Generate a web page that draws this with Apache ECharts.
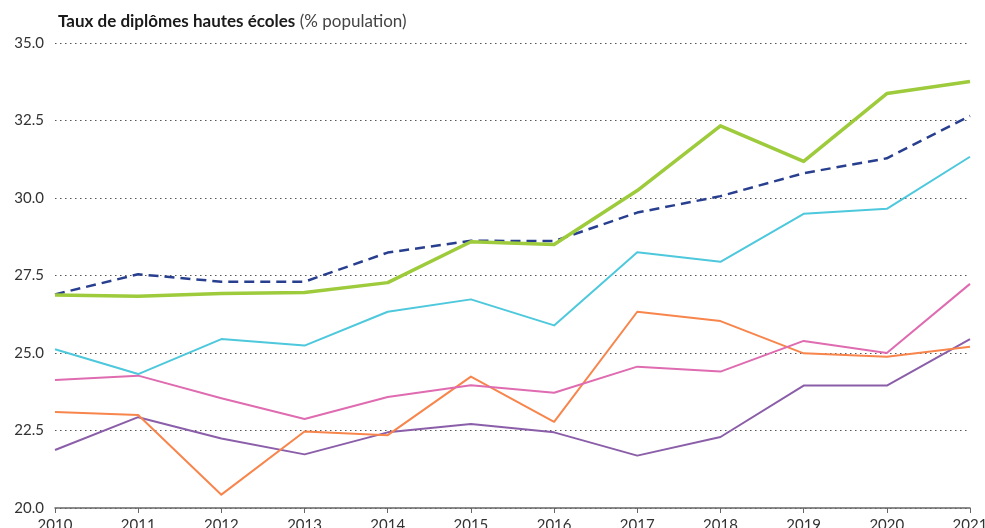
<!DOCTYPE html>
<html>
<head>
<meta charset="utf-8">
<script src="https://cdn.jsdelivr.net/npm/echarts@6/dist/echarts.min.js"></script>
<style>
  html, body { margin: 0; padding: 0; background: #fff; }
  #chart { width: 985px; height: 528px; }
</style>
</head>
<body>
<div id="chart"></div>
<script>
const years = ['2010','2011','2012','2013','2014','2015','2016','2017','2018','2019','2020','2021'];
const yTicks = [20, 22.5, 25, 27.5, 30, 32.5, 35];

const green  = [26.87, 26.83, 26.92, 26.95, 27.27, 28.59, 28.5, 30.24, 32.33, 31.18, 33.37, 33.76];
const navy   = [26.89, 27.54, 27.3, 27.3, 28.24, 28.62, 28.61, 29.53, 30.06, 30.8, 31.28, 32.65];
const cyan   = [25.12, 24.32, 25.45, 25.24, 26.33, 26.73, 25.89, 28.25, 27.94, 29.49, 29.65, 31.33];
const pink   = [24.13, 24.27, 23.54, 22.87, 23.58, 23.96, 23.72, 24.56, 24.4, 25.39, 25.0, 27.23];
const orange = [23.1, 23.0, 20.43, 22.47, 22.35, 24.24, 22.78, 26.33, 26.03, 24.99, 24.88, 25.2];
const purple = [21.87, 22.93, 22.24, 21.73, 22.44, 22.71, 22.44, 21.69, 22.29, 23.95, 23.95, 25.45];

const chart = echarts.init(document.getElementById('chart'));

function line(data, color, width, dashed) {
  return {
    type: 'line',
    data: data,
    symbol: 'none',
    silent: true,
    lineStyle: { color: color, width: width, type: dashed ? [10, 6] : 'solid', join: 'round' },
    z: width > 3 ? 5 : 3
  };
}

chart.setOption({
  animation: false,
  textStyle: { fontFamily: 'Lato, sans-serif' },
  title: {
    text: '{b|Taux de diplômes hautes écoles} {n|(% population)}',
    left: 53,
    top: 8,
    textStyle: {
      rich: {
        b: { fontSize: 17, fontWeight: 'bold', color: '#1a1a1a', fontFamily: 'Lato' },
        n: { fontSize: 17, fontWeight: 'normal', color: '#444', fontFamily: 'Lato' }
      }
    }
  },
  grid: { left: 55, right: 15, top: 43, bottom: 20, outerBoundsMode: 'none' },
  xAxis: {
    type: 'category',
    data: years,
    boundaryGap: false,
    axisLine: { lineStyle: { color: '#666', width: 1.5 } },
    axisTick: { show: true, length: 5, lineStyle: { color: '#666' } },
    axisLabel: { color: '#333', fontSize: 15, margin: 10, fontFamily: 'Lato' },
    splitLine: { show: false }
  },
  yAxis: {
    type: 'value',
    min: yTicks[0],
    max: yTicks[yTicks.length - 1],
    interval: 2.5,
    axisLine: { show: false },
    axisTick: { show: false },
    axisLabel: { color: '#333', fontSize: 15, margin: 11, fontFamily: 'Lato', formatter: v => v.toFixed(1) },
    splitLine: { lineStyle: { color: '#555', type: [1.5, 3.5], width: 1 } }
  },
  series: [
    line(purple, '#8b5ea9', 2),
    line(orange, '#f7854c', 2),
    line(pink, '#df6bb0', 2),
    line(cyan, '#4dc8dc', 2),
    line(navy, '#283f8f', 2.5, true),
    line(green, '#9dcb3b', 3.5)
  ]
});
</script>
</body>
</html>
